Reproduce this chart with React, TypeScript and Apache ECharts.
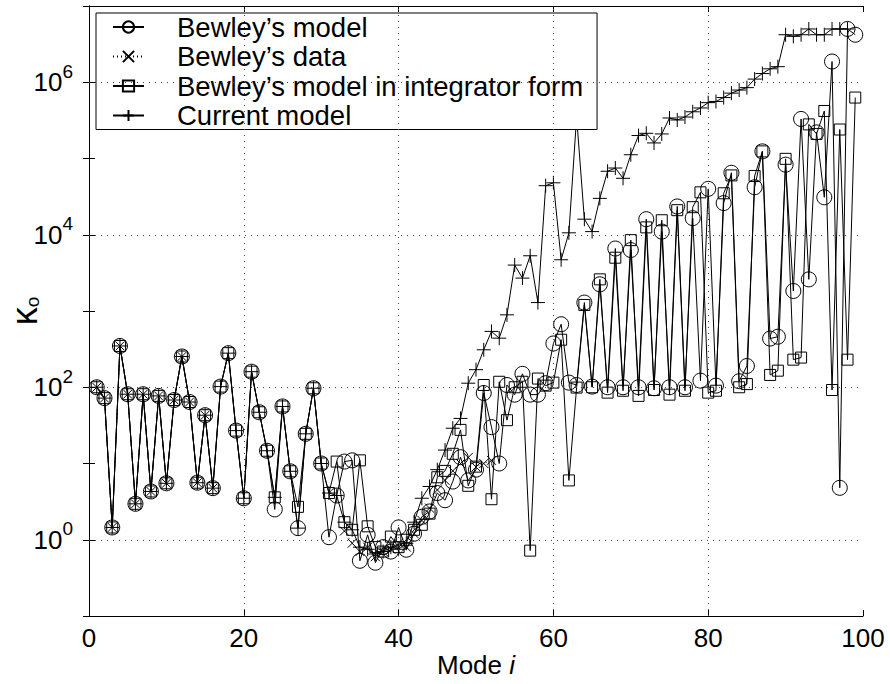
import React, { useEffect, useRef } from 'react';
import * as echarts from 'echarts';

const FONT = '"Liberation Sans", Arial, Helvetica, sans-serif';

// Mode numbers 1..99
const modes: number[] = Array.from({ length: 99 }, (_, k) => k + 1);

// Bewley's model (circles)
const bewleyModel: (number | null)[] = [
  100, 72, 1.45, 348, 81, 2.96, 81, 4.3, 77, 5.5,
  68, 253, 64, 5.6, 43, 4.75, 102, 280, 27, 3.5,
  160, 47, 14.7, 2.5, 56, 7.9, 1.42, 24.5, 97, 10,
  1.08, 3.8, 10.6, 11, 0.53, 1.16, 0.5, 0.8, 0.7, 1.45,
  0.74, 1.2, 2.0, 2.35, 4.1, 3.3, 5.8, 12.1, 6, 8.3,
  84, 30, 10, 107, 80, 150, 80, 80, 113, 375,
  670, 115, 107, 1290, 102, 2240, 100, 6600, 100, 6300,
  100, 16000, 97, 11000, 100, 23500, 100, 16500, 122, 40000,
  105, 26000, 65000, 120, 190, 42000, 124000, 435, 460, 83000,
  1830, 330000, 2600, 220000, 31000, 1870000, 4.8, 5000000, 4200000,
];

// Bewley's data (x markers, dotted)
const bewleyData: (number | null)[] = [
  100, 72, 1.45, 348, 81, 2.96, 81, 4.3, 77, 5.5,
  68, 253, 64, 5.6, 43, 4.75, null, null, null, null,
  null, null, null, null, null, null, null, null, null, null,
  null, null, 1.3, 0.9, 0.7, 0.8, 0.6, 0.7, 0.75, 0.9,
  0.8, 1.2, 1.8, 2.6, 4.5, 6, 8, 10, 12, 9,
  10, 11, null, null, null, null, null, null, null, null,
  null, null, null, null, null, null, null, null, null, null,
  null, null, null, null, null, null, null, null, null, null,
  null, null, null, null, null, null, null, null, null, null,
  null, null, null, null, null, null, null, null, null,
];

// Bewley's model in integrator form (squares)
const integratorForm: (number | null)[] = [
  100, 72, 1.45, 348, 81, 2.96, 81, 4.3, 77, 5.5,
  68, 253, 64, 5.6, 43, 4.75, 102, 280, 27, 3.5,
  160, 47, 14.7, 3.6, 56, 7.9, 2.7, 24.5, 97, 10,
  4.1, 10.6, 1.7, 1.35, 11, 1.5, 0.8, 0.7, 1.1, 0.8,
  1.0, 1.35, 1.57, 2.2, 6.6, 8, 13.4, 27.6, 5.1, 9.1,
  107, 3.4, 118, 37, 100, 118, 0.72, 130, 105, 115,
  420, 6, 99, 1200, 100, 2600, 85, 5000, 90, 8500,
  77, 12500, 92, 15500, 80, 21000, 90, 23000, 36000, 85,
  90, 35000, 60000, 100, 110, 59000, 124000, 145, 165, 99000,
  230, 245, 280000, 210000, 420000, 92, 240000, 230, 630000,
];

// Current model (plus markers)
const currentModel: (number | null)[] = [
  100, 72, 1.45, 348, 81, 2.96, 81, 4.3, 77, 5.5,
  68, 253, 64, 5.6, 43, 4.75, 102, 280, 27, 3.5,
  160, 47, 14.7, 3.6, 56, 7.9, 1.42, 24.5, 97, 10,
  4.1, 3.8, 1.7, 1.35, 0.8, 0.75, 0.65, 0.7, 0.8, 0.75,
  0.9, 1.7, 3.5, 5, 8.3, 15, 29, 39, 113, 170,
  310, 540, 440, 890, 4000, 2700, 5300, 1290, 44000, 48000,
  4700, 10600, 350000, 16000, 11000, 30000, 68000, 75000, 55000, 112000,
  200000, 214000, 160000, 210000, 340000, 320000, 350000, 410000, 460000, 540000,
  560000, 630000, 720000, 790000, 850000, 1100000, 1300000, 1500000, 1600000, 4200000,
  4000000, 4200000, 5000000, 4200000, 4200000, 5000000, 5000000, 5000000, null,
];

const seriesNames = [
  'Bewley\u2019s model',
  'Bewley\u2019s data',
  'Bewley\u2019s model in integrator form',
  'Current model',
];

const xTicks = [0, 20, 40, 60, 80, 100];
const yGridValues = [1, 100, 10000, 1000000];
const xGridValues = [20, 40, 60, 80];

function pairs(arr: (number | null)[]) {
  return modes.map((m, k) => [m, arr[k] == null ? '-' : arr[k]]);
}

export default function App() {
  const ref = useRef<HTMLDivElement>(null);
  useEffect(() => {
    if (!ref.current) return;
    const chart = echarts.init(ref.current, undefined, { renderer: 'svg' });
    const markStyle = {
      color: 'rgba(0,0,0,0)',
      borderColor: '#000',
      borderWidth: 1,
    };
    const lineBase = { color: '#000', width: 1 };
    const gridLines = {
      silent: true,
      symbol: ['none', 'none'],
      label: { show: false },
      lineStyle: { type: [1, 5], color: '#444', width: 1 },
      data: [
        ...yGridValues.map((v) => ({ yAxis: v })),
        ...xGridValues.map((v) => ({ xAxis: v })),
      ],
    };
    const option: any = {
      animation: false,
      backgroundColor: '#fff',
      grid: {
        left: 89,
        right: 27,
        top: 6,
        bottom: 68,
        containLabel: false,
        outerBoundsMode: 'none',
      },
      legend: {
        orient: 'vertical',
        left: 96,
        top: 13,
        data: seriesNames,
        backgroundColor: '#fff',
        borderColor: '#000',
        borderWidth: 1,
        borderRadius: 0,
        padding: [0, 14, 0, 16],
        itemWidth: 31,
        itemHeight: 14,
        itemGap: 1.5,
        textStyle: {
          fontSize: 27.5,
          fontFamily: FONT,
          color: '#000',
          padding: [0, 0, 0, 28],
          lineHeight: 27,
        },
      },
      xAxis: [
        {
          type: 'value',
          min: 0,
          max: 100,
          interval: 20,
          position: 'bottom',
          axisLine: { lineStyle: { color: '#000', width: 1 } },
          axisTick: { inside: true, length: 6, lineStyle: { color: '#000' } },
          axisLabel: {
            fontSize: 26,
            fontFamily: FONT,
            color: '#000',
            margin: 9,
            formatter: (v: number) => (xTicks.includes(v) ? String(v) : ''),
          },
          splitLine: { show: false },
          name: '{a|Mode }{b|i}',
          nameLocation: 'middle',
          nameGap: 36,
          nameMoveOverlap: false,
          nameTextStyle: {
            rich: {
              a: { fontSize: 26, fontFamily: FONT, color: '#000' },
              b: { fontSize: 26, fontFamily: FONT, fontStyle: 'italic', color: '#000' },
            },
          },
        },
        {
          type: 'value',
          min: 0,
          max: 100,
          interval: 20,
          position: 'top',
          axisLine: { lineStyle: { color: '#000', width: 1 } },
          axisTick: { inside: true, length: 6, lineStyle: { color: '#000' } },
          axisLabel: { show: false },
          splitLine: { show: false },
        },
      ],
      yAxis: [
        {
          type: 'log',
          logBase: 10,
          min: 0.1,
          max: 10000000,
          splitNumber: 8,
          position: 'left',
          axisLine: { show: true, lineStyle: { color: '#000', width: 1 } },
          axisTick: { show: true, inside: true, length: 6, lineStyle: { color: '#000' } },
          splitLine: { show: false },
          axisLabel: {
            margin: 16,
            formatter: (v: number) => {
              const e = Math.round(Math.log10(v));
              if (e < 0 || e > 6 || e % 2 !== 0) return '';
              return '{b|10}{s|' + e + '}';
            },
            rich: {
              b: { fontSize: 26, fontFamily: FONT, color: '#000' },
              s: { fontSize: 19, fontFamily: FONT, color: '#000', padding: [0, 0, 22, 0] },
            },
          },
          name: '{k|\u03ba}{s|o}',
          nameLocation: 'middle',
          nameRotate: 90,
          nameGap: 47,
          nameMoveOverlap: false,
          nameTextStyle: {
            rich: {
              k: { fontSize: 36, lineHeight: 36, fontFamily: FONT, color: '#000' },
              s: { fontSize: 19, lineHeight: 19, fontFamily: FONT, color: '#000', verticalAlign: 'bottom' },
            },
          },
        },
        {
          type: 'log',
          logBase: 10,
          min: 0.1,
          max: 10000000,
          splitNumber: 8,
          position: 'right',
          axisLine: { show: true, lineStyle: { color: '#000', width: 1 } },
          axisTick: { show: true, inside: true, length: 6, lineStyle: { color: '#000' } },
          splitLine: { show: false },
          axisLabel: { show: false },
        },
      ],
      series: [
        {
          name: seriesNames[0],
          type: 'line',
          data: pairs(bewleyModel),
          symbol: 'circle',
          symbolSize: 15,
          itemStyle: markStyle,
          lineStyle: lineBase,
          markLine: gridLines,
          z: 3,
        },
        {
          name: seriesNames[1],
          type: 'line',
          data: pairs(bewleyData),
          symbol: 'path://M0,0L10,10M10,0L0,10',
          symbolSize: 9,
          itemStyle: markStyle,
          lineStyle: { color: '#000', width: 1, type: [1, 3] },
          z: 3,
        },
        {
          name: seriesNames[2],
          type: 'line',
          data: pairs(integratorForm),
          symbol: 'rect',
          symbolSize: 11,
          itemStyle: markStyle,
          lineStyle: lineBase,
          z: 3,
        },
        {
          name: seriesNames[3],
          type: 'line',
          data: pairs(currentModel),
          symbol: 'path://M5,0L5,10M0,5L10,5',
          symbolSize: 14,
          itemStyle: markStyle,
          lineStyle: lineBase,
          z: 3,
        },
      ],
    };
    chart.setOption(option);
    return () => chart.dispose();
  }, []);
  return (
    <div
      ref={ref}
      style={{ position: 'fixed', left: 0, top: 0, width: 890, height: 684, background: '#fff' }}
    />
  );
}
